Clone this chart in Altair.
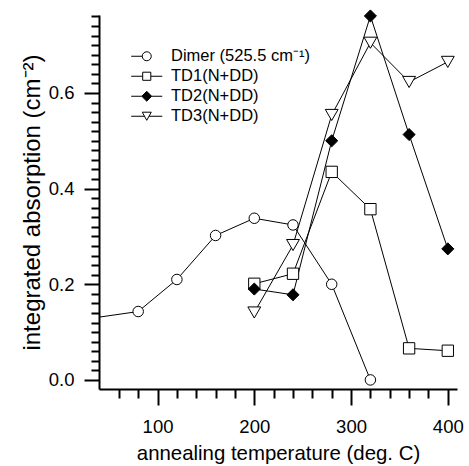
import altair as alt
import pandas as pd

# ---- data ----
series_names = ["Dimer (525.5 cm⁻¹)", "TD1(N+DD)", "TD2(N+DD)", "TD3(N+DD)"]
temps_dimer = [25, 80, 120, 160, 200, 240, 280, 320]
dimer = [0.127, 0.143, 0.210, 0.302, 0.338, 0.324, 0.200, 0.0]
temps_td = [200, 240, 280, 320, 360, 400]
td1 = [0.201, 0.222, 0.435, 0.357, 0.066, 0.061]
td2 = [0.190, 0.178, 0.500, 0.761, 0.513, 0.274]
td3 = [0.141, 0.282, 0.554, 0.705, 0.623, 0.665]

# tick values (major ticks are the labelled ones); y ticks in hundredths
x_ticks = list(range(60, 401, 20))
y_ticks = list(range(0, 77, 2))

rows = []
for t, v in zip(temps_dimer, dimer):
    rows.append({"T": t, "A": v, "series": series_names[0]})
for name, vals in zip(series_names[1:], [td1, td2, td3]):
    for t, v in zip(temps_td, vals):
        rows.append({"T": t, "A": v, "series": name})
df = pd.DataFrame(rows)
df_leg = pd.DataFrame({"series": series_names})

FONT = "Liberation Sans"
xdom = [39.5, 409.5]
ydom = [-1.9, 76.3]          # hundredths of cm^-2
W, H = 358, 374

xs = alt.Scale(domain=xdom, nice=False, zero=False)
ys = alt.Scale(domain=ydom, nice=False, zero=False)

x_major_test = "datum.value % 100 == 0"
y_major_test = "datum.value % 20 == 0"

x_axis = alt.Axis(orient="bottom", values=x_ticks, format="d",
                  labelExpr=f"{x_major_test} ? datum.label : ''",
                  labelOverlap=False,
                  tickSize={"condition": {"test": x_major_test, "value": 16}, "value": 9},
                  title="annealing temperature (deg. C)",
                  tickWidth=2, domainWidth=2, grid=False,
                  labelPadding=12, titlePadding=8, titleFontSize=20.4,
                  domainColor="black", tickColor="black")
y_axis = alt.Axis(orient="left", values=y_ticks,
                  labelExpr=f"{y_major_test} ? format(datum.value / 100, '.1f') : ''",
                  labelOverlap=False,
                  tickSize={"condition": {"test": y_major_test, "value": 15}, "value": 8},
                  title="integrated absorption (cm⁻²)",
                  tickWidth=2, domainWidth=2, grid=False,
                  labelPadding=10, titlePadding=4, titleFontSize=24,
                  domainColor="black", tickColor="black")

base = alt.Chart(df).transform_calculate(Ap="datum.A * 100")

lines = base.mark_line(color="black", strokeWidth=1, clip=True).encode(
    x=alt.X("T:Q", scale=xs, axis=x_axis),
    y=alt.Y("Ap:Q", scale=ys, axis=y_axis),
    detail="series:N",
)

shape_scale = alt.Scale(domain=series_names,
                        range=["circle", "square", "diamond", "triangle-down"])
fill_scale = alt.Scale(domain=series_names, range=["white", "white", "black", "white"])
size_scale = alt.Scale(domain=series_names, range=[110, 165, 120, 130])

points = base.transform_filter(
    alt.datum.T >= xdom[0]
).mark_point(filled=True, stroke="black", strokeWidth=1, opacity=1).encode(
    x=alt.X("T:Q", scale=xs, axis=x_axis),
    y=alt.Y("Ap:Q", scale=ys, axis=y_axis),
    shape=alt.Shape("series:N", scale=shape_scale, legend=None),
    fill=alt.Fill("series:N", scale=fill_scale, legend=None),
    size=alt.Size("series:N", scale=size_scale, legend=None),
)

# legend symbols: marker with line stubs on both sides
leg_paths = [
    "M-3.45,0H-1M1,0C1,0.552,0.552,1,0,1C-0.552,1,-1,0.552,-1,0"
    "C-1,-0.552,-0.552,-1,0,-1C0.552,-1,1,-0.552,1,0Z",
    "M-3.45,0H-0.9M0.9,0H3.45M-0.9,-0.9H0.9V0.9H-0.9Z",
    "M-3.45,0H-1.1M1.1,0H3.45M0,-1.1L1.1,0L0,1.1L-1.1,0Z",
    "M-3.45,0H-0.5M0.5,0H3.45M-1,-0.9H1L0,0.9Z",
]
leg_shape = alt.Scale(domain=series_names, range=leg_paths)
leg_fill = alt.Scale(domain=series_names, range=["white", "white", "black", "white"])
leg_stroke = alt.Scale(domain=series_names, range=["black", "black", "black", "black"])

legend = alt.Legend(title=None, orient="none", legendX=39.5, legendY=33,
                    symbolSize=81, symbolStrokeWidth=1, labelFont=FONT,
                    labelFontSize=16.5, labelColor="black", labelOffset=16,
                    rowPadding=3, padding=0)

leg_layer = alt.Chart(df_leg).mark_point(filled=False, strokeWidth=1, opacity=0).encode(
    shape=alt.Shape("series:N", scale=leg_shape, legend=legend),
    fill=alt.Fill("series:N", scale=leg_fill, legend=legend),
    stroke=alt.Stroke("series:N", scale=leg_stroke, legend=legend),
)

chart = alt.layer(lines, points, leg_layer).resolve_scale(
    shape="independent", fill="independent", size="independent", stroke="independent"
).properties(
    width=W, height=H,
    padding={"left": 99, "top": 15, "right": 12, "bottom": 77},
    autosize=alt.AutoSizeParams(type="none"),
    background="white",
).configure_axis(
    labelFont=FONT, titleFont=FONT, labelFontSize=18.5,
    labelColor="black", titleColor="black", titleFontWeight="normal",
).configure_view(strokeWidth=0).configure_legend(symbolOpacity=1)

chart.save("out.html", embed_options={"renderer": "svg", "actions": False})
